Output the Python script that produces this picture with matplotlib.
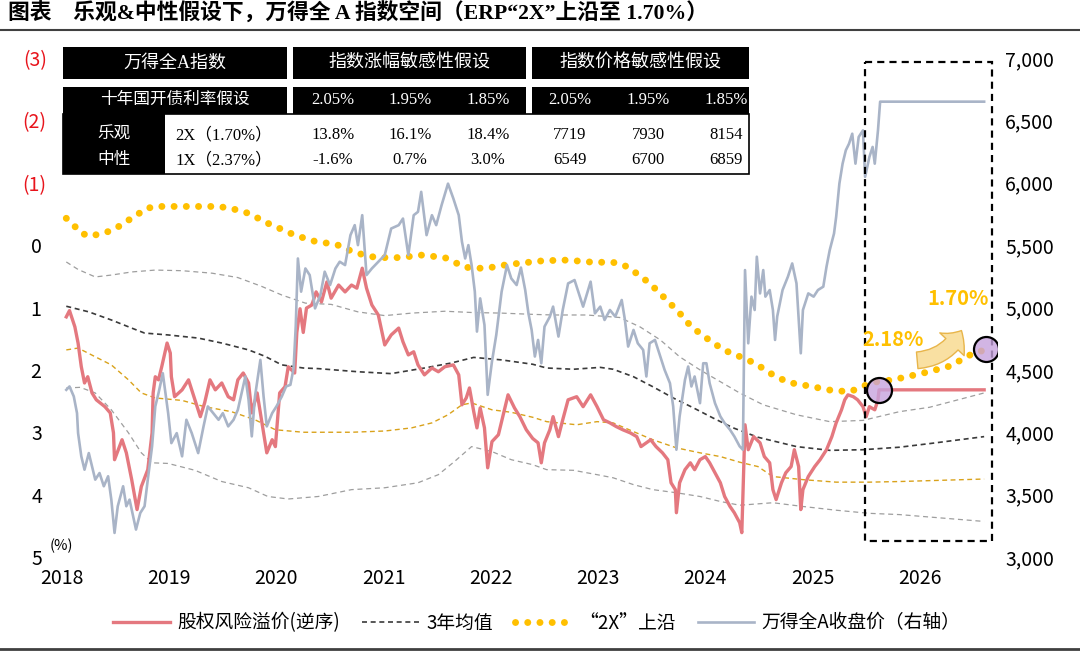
import matplotlib
matplotlib.use('Agg')
import matplotlib.pyplot as plt
from matplotlib.patches import Rectangle, FancyArrowPatch, ArrowStyle
from matplotlib.lines import Line2D
from matplotlib.ticker import FuncFormatter

plt.rcParams['font.family'] = ['Noto Sans CJK SC', 'DejaVu Sans']
plt.rcParams['axes.unicode_minus'] = False

# ---------------- datos ----------------
# ERP (%, eje izquierdo invertido)
erp_t = [2018.04, 2018.07, 2018.12, 2018.15, 2018.18, 2018.21, 2018.24, 2018.28, 2018.32, 2018.40,
         2018.45, 2018.48, 2018.49, 2018.56, 2018.60, 2018.65, 2018.70, 2018.74, 2018.80, 2018.84,
         2018.85, 2018.87, 2018.90, 2018.93, 2018.98, 2019.01, 2019.02, 2019.05, 2019.12, 2019.18,
         2019.24, 2019.29, 2019.33, 2019.38, 2019.43, 2019.49, 2019.55, 2019.60, 2019.64, 2019.69,
         2019.74, 2019.77, 2019.82, 2019.86, 2019.91, 2019.96, 2019.99, 2020.03, 2020.08, 2020.11,
         2020.14, 2020.17, 2020.19, 2020.22, 2020.25, 2020.28, 2020.33, 2020.37, 2020.42, 2020.47,
         2020.51, 2020.58, 2020.64, 2020.70, 2020.75, 2020.80, 2020.84, 2020.89, 2020.95, 2021.01,
         2021.07, 2021.14, 2021.18, 2021.23, 2021.28, 2021.32, 2021.38, 2021.45, 2021.51, 2021.57,
         2021.65, 2021.70, 2021.73, 2021.77, 2021.80, 2021.84, 2021.87, 2021.90, 2021.94, 2021.97,
         2022.01, 2022.07, 2022.13, 2022.16, 2022.22, 2022.27, 2022.33, 2022.39, 2022.44, 2022.47,
         2022.50, 2022.55, 2022.58, 2022.63, 2022.67, 2022.72, 2022.80, 2022.86, 2022.93, 2022.99,
         2023.05, 2023.11, 2023.17, 2023.23, 2023.30, 2023.36, 2023.40, 2023.45, 2023.49, 2023.54,
         2023.60, 2023.65, 2023.68, 2023.72, 2023.73, 2023.76, 2023.81, 2023.86, 2023.90, 2023.95,
         2024.00, 2024.04, 2024.09, 2024.14, 2024.18, 2024.23, 2024.27, 2024.32, 2024.34, 2024.37,
         2024.40, 2024.45, 2024.51, 2024.55, 2024.60, 2024.63, 2024.66, 2024.71, 2024.75, 2024.80,
         2024.83, 2024.87, 2024.89, 2024.91, 2024.96, 2025.02, 2025.07, 2025.13, 2025.18, 2025.22,
         2025.27, 2025.30, 2025.33, 2025.38, 2025.42, 2025.47, 2025.50, 2025.53, 2025.58, 2025.61,
         2025.62, 2026.60]
erp_v = [1.15, 1.05, 1.31, 1.57, 1.95, 2.21, 2.11, 2.37, 2.48, 2.59,
         2.69, 3.01, 3.44, 3.12, 3.33, 3.76, 4.24, 3.87, 3.60, 3.01,
         2.37, 2.11, 2.16, 1.95, 1.57, 1.73, 2.11, 2.43, 2.32, 2.16,
         2.48, 2.75, 2.53, 2.16, 2.32, 2.21, 2.43, 2.48, 2.16, 2.05,
         2.21, 2.69, 2.37, 2.80, 3.33, 3.12, 3.23, 2.37, 2.27, 1.95,
         2.00, 2.05, 1.40, 1.02, 1.40, 1.01, 0.96, 0.75, 0.91, 0.59,
         0.85, 0.64, 0.75, 0.64, 0.69, 0.37, 0.69, 0.96, 1.12, 1.60,
         1.44, 1.33, 1.55, 1.76, 1.71, 1.92, 2.08, 1.97, 2.03, 1.95,
         1.92, 2.08, 2.56, 2.45, 2.29, 2.67, 2.93, 2.61, 2.93, 3.57,
         3.15, 3.04, 2.61, 2.40, 2.61, 2.75, 2.96, 3.10, 3.17, 3.49,
         3.17, 2.96, 2.75, 3.07, 2.80, 2.48, 2.43, 2.59, 2.40, 2.59,
         2.80, 2.85, 2.91, 2.96, 3.01, 3.07, 3.23, 3.17, 3.12, 3.23,
         3.33, 3.44, 3.81, 3.92, 4.29, 3.81, 3.60, 3.49, 3.60, 3.44,
         3.39, 3.49, 3.65, 3.81, 4.03, 4.19, 4.29, 4.45, 4.61, 2.88,
         3.28, 3.07, 3.17, 3.39, 3.49, 3.92, 4.08, 3.81, 3.65, 3.55,
         3.28, 3.55, 4.24, 3.92, 3.71, 3.55, 3.44, 3.28, 3.07, 2.85,
         2.64, 2.48, 2.40, 2.43, 2.48, 2.59, 2.75, 2.59, 2.64, 2.48,
         2.32, 2.32]

# 万得全A 收盘价 (eje derecho)
idx_t = [2018.04, 2018.07, 2018.11, 2018.14, 2018.15, 2018.18, 2018.21, 2018.25, 2018.28, 2018.31,
         2018.35, 2018.39, 2018.43, 2018.46, 2018.49, 2018.52, 2018.57, 2018.60, 2018.63, 2018.69,
         2018.73, 2018.77, 2018.80, 2018.84, 2018.87, 2018.90, 2018.94, 2018.99, 2019.02, 2019.07,
         2019.12, 2019.16, 2019.21, 2019.27, 2019.32, 2019.36, 2019.41, 2019.46, 2019.50, 2019.55,
         2019.60, 2019.64, 2019.71, 2019.74, 2019.77, 2019.80, 2019.85, 2019.88, 2019.91, 2019.96,
         2020.00, 2020.05, 2020.09, 2020.13, 2020.16, 2020.18, 2020.20, 2020.23, 2020.27, 2020.31,
         2020.36, 2020.41, 2020.45, 2020.50, 2020.55, 2020.59, 2020.64, 2020.69, 2020.73, 2020.76,
         2020.80, 2020.84, 2020.89, 2020.95, 2021.01, 2021.07, 2021.14, 2021.18, 2021.23, 2021.28,
         2021.32, 2021.35, 2021.40, 2021.45, 2021.49, 2021.54, 2021.60, 2021.65, 2021.70, 2021.73,
         2021.76, 2021.79, 2021.82, 2021.85, 2021.87, 2021.90, 2021.94, 2021.97, 2022.01, 2022.05,
         2022.10, 2022.15, 2022.19, 2022.24, 2022.28, 2022.32, 2022.35, 2022.38, 2022.41, 2022.44,
         2022.47, 2022.50, 2022.55, 2022.58, 2022.63, 2022.67, 2022.72, 2022.78, 2022.83, 2022.86,
         2022.93, 2022.97, 2023.02, 2023.06, 2023.11, 2023.16, 2023.22, 2023.25, 2023.28, 2023.33,
         2023.37, 2023.42, 2023.45, 2023.48, 2023.53, 2023.58, 2023.62, 2023.67, 2023.70, 2023.73,
         2023.76, 2023.81, 2023.84, 2023.87, 2023.90, 2023.95, 2023.98, 2024.01, 2024.04, 2024.09,
         2024.14, 2024.18, 2024.23, 2024.27, 2024.32, 2024.35, 2024.37, 2024.40, 2024.43, 2024.46,
         2024.48, 2024.51, 2024.54, 2024.56, 2024.60, 2024.63, 2024.65, 2024.67, 2024.72, 2024.77,
         2024.81, 2024.85, 2024.89, 2024.91, 2024.96, 2025.01, 2025.05, 2025.10, 2025.13, 2025.16,
         2025.20, 2025.22, 2025.25, 2025.28, 2025.31, 2025.34, 2025.37, 2025.40, 2025.43, 2025.47,
         2025.49, 2025.53, 2025.56, 2025.58, 2025.61, 2025.63, 2026.60]
idx_v = [4340, 4367, 4287, 4153, 3993, 3807, 3700, 3833, 3727, 3620,
         3673, 3567, 3647, 3460, 3193, 3407, 3567, 3407, 3460, 3220,
         3353, 3407, 3620, 3887, 4207, 4313, 4473, 4153, 3913, 3993,
         3807, 4100, 3993, 3833, 4047, 4207, 4153, 4100, 4153, 4047,
         4100, 4180, 4447, 4260, 3967, 4287, 4580, 4287, 4047, 4153,
         4207, 4287, 4367, 4380, 4513, 4850, 5393, 5127, 5313, 5260,
         4993, 5100, 5287, 5180, 5313, 5367, 5340, 5580, 5660, 5500,
         5740, 5260, 5313, 5367, 5420, 5633, 5660, 5713, 5420, 5740,
         5767, 5927, 5580, 5740, 5660, 5820, 5993, 5873, 5740, 5527,
         5393, 5500, 5340, 5127, 4807, 5073, 4860, 4300, 4567, 4780,
         5127, 5340, 5233, 5180, 5320, 5140, 4953, 4820, 4607, 4740,
         4553, 4847, 4927, 5007, 4767, 4980, 5193, 5220, 5087, 5007,
         5207, 4953, 5007, 4900, 4980, 4927, 5060, 4900, 4687, 4820,
         4713, 4660, 4447, 4713, 4740, 4607, 4500, 4393, 4207, 3860,
         4127, 4420, 4527, 4367, 4447, 4233, 4553, 4553, 4393, 4233,
         4127, 4073, 4020, 3967, 3887, 3860, 5300, 4713, 5087, 4980,
         5407, 5113, 5300, 5087, 5140, 4980, 4740, 4927, 5140, 5247,
         5353, 5193, 4633, 4980, 5113, 5087, 5140, 5167, 5327, 5460,
         5593, 5727, 5993, 6153, 6260, 6313, 6393, 6153, 6367, 6420,
         6047, 6207, 6287, 6153, 6420, 6650, 6650]

# 3年均值
mean_t = [2018.04, 2018.25, 2018.46, 2018.65, 2018.77, 2018.99, 2019.27, 2019.49, 2019.74, 2019.89,
          2020.05, 2020.25, 2020.39, 2020.76, 2021.07, 2021.38, 2021.63, 2021.84, 2022.10, 2022.39,
          2022.52, 2022.77, 2023.02, 2023.14, 2023.33, 2023.51, 2023.70, 2023.89, 2024.07, 2024.26,
          2024.49, 2024.85, 2025.16, 2025.47, 2025.81, 2026.10, 2026.60]
mean_v = [0.98, 1.07, 1.20, 1.33, 1.41, 1.44, 1.49, 1.57, 1.68, 1.78,
          1.92, 1.97, 1.98, 2.03, 2.06, 1.97, 1.89, 1.80, 1.84, 1.91,
          1.97, 1.99, 1.96, 1.99, 2.11, 2.27, 2.45, 2.61, 2.77, 2.93,
          3.08, 3.23, 3.29, 3.28, 3.24, 3.18, 3.07]

# 均值-1倍标准差 (灰色虚线上)
up1_t = [2018.04, 2018.15, 2018.31, 2018.46, 2018.65, 2018.87, 2019.12, 2019.40, 2019.64, 2019.86,
         2020.05, 2020.27, 2020.51, 2020.76, 2021.01, 2021.26, 2021.57, 2021.82, 2022.10, 2022.39,
         2022.58, 2022.89, 2023.20, 2023.39, 2023.58, 2023.76, 2023.95, 2024.14, 2024.32, 2024.54,
         2024.85, 2025.16, 2025.47, 2025.81, 2026.09, 2026.60]
up1_v = [0.27, 0.39, 0.51, 0.48, 0.43, 0.40, 0.41, 0.45, 0.52, 0.66,
         0.80, 0.93, 0.95, 1.07, 1.13, 1.09, 1.06, 1.08, 1.09, 1.11,
         1.12, 1.12, 1.16, 1.31, 1.52, 1.79, 2.00, 2.19, 2.37, 2.56,
         2.72, 2.83, 2.81, 2.67, 2.60, 2.37]

# “2X”上沿
twox_t = [2018.04, 2018.11, 2018.17, 2018.26, 2018.37, 2018.46, 2018.54, 2018.62, 2018.70, 2018.76,
          2018.86, 2019.21, 2019.43, 2019.55, 2019.64, 2019.74, 2019.83, 2019.92, 2020.08, 2020.17,
          2020.36, 2020.56, 2020.73, 2020.93, 2021.15, 2021.35, 2021.57, 2021.66, 2021.74, 2021.85,
          2021.96, 2022.16, 2022.49, 2022.71, 2022.92, 2023.16, 2023.25, 2023.34, 2023.48, 2023.61,
          2023.75, 2023.87, 2024.01, 2024.17, 2024.34, 2024.47, 2024.60, 2024.77, 2024.97, 2025.18,
          2025.35, 2025.46, 2025.56, 2025.75, 2026.06, 2026.28, 2026.47, 2026.62]
twox_v = [-0.43, -0.32, -0.20, -0.14, -0.19, -0.23, -0.31, -0.40, -0.48, -0.57,
          -0.62, -0.62, -0.62, -0.60, -0.56, -0.51, -0.43, -0.35, -0.23, -0.16,
          -0.06, -0.01, 0.12, 0.20, 0.20, 0.16, 0.20, 0.27, 0.35, 0.37,
          0.37, 0.31, 0.25, 0.24, 0.27, 0.28, 0.33, 0.43, 0.61, 0.83,
          1.07, 1.31, 1.49, 1.68, 1.80, 1.90, 2.05, 2.20, 2.26, 2.33,
          2.35, 2.27, 2.20, 2.16, 2.04, 1.94, 1.76, 1.67]

# 均值+1倍标准差 (黄色细虚线)
dn1_t = [2018.04, 2018.15, 2018.31, 2018.46, 2018.62, 2018.74, 2018.87, 2019.12, 2019.33, 2019.58,
         2019.80, 2019.99, 2020.25, 2020.70, 2021.01, 2021.26, 2021.45, 2021.60, 2021.73, 2021.82,
         2022.01, 2022.19, 2022.39, 2022.52, 2022.80, 2022.99, 2023.14, 2023.33, 2023.51, 2023.73,
         2023.95, 2024.14, 2024.32, 2024.49, 2024.63, 2024.91, 2025.22, 2025.53, 2025.81, 2026.60]
dn1_v = [1.68, 1.65, 1.79, 1.92, 2.16, 2.37, 2.45, 2.49, 2.59, 2.67,
         2.80, 2.96, 3.00, 3.00, 2.98, 2.93, 2.85, 2.72, 2.56, 2.53,
         2.64, 2.68, 2.76, 2.83, 2.88, 2.83, 2.85, 2.99, 3.12, 3.25,
         3.33, 3.39, 3.48, 3.55, 3.71, 3.76, 3.80, 3.80, 3.79, 3.75]

# 均值+2倍标准差 (灰色虚线下)
dn2_t = [2018.04, 2018.17, 2018.31, 2018.46, 2018.62, 2018.74, 2018.84, 2018.99, 2019.24, 2019.49,
         2019.74, 2019.92, 2020.11, 2020.39, 2020.70, 2021.01, 2021.32, 2021.51, 2021.66, 2021.82,
         2022.01, 2022.19, 2022.39, 2022.52, 2022.77, 2022.99, 2023.14, 2023.33, 2023.51, 2023.73,
         2023.95, 2024.14, 2024.32, 2024.63, 2024.91, 2025.22, 2025.53, 2025.81, 2026.60]
dn2_v = [2.29, 2.28, 2.37, 2.64, 3.01, 3.33, 3.49, 3.50, 3.61, 3.79,
         3.89, 4.03, 4.07, 4.03, 3.92, 3.89, 3.81, 3.68, 3.47, 3.23,
         3.31, 3.44, 3.52, 3.60, 3.61, 3.68, 3.73, 3.84, 3.92, 3.97,
         4.03, 4.11, 4.17, 4.13, 4.19, 4.25, 4.30, 4.32, 4.43]

# puntos marcados (ERP actual y 2X objetivo)
mark_t = [2025.62, 2026.62]
mark_v = [2.32, 1.67]
mark_txt = ['2.18%', '1.70%']

# tabla
tab_head = ['万得全A指数', '指数涨幅敏感性假设', '指数价格敏感性假设']
tab_rate_title = '十年国开债利率假设'
tab_rates = ['2.05%', '1.95%', '1.85%']
scen_names = ['乐观', '中性']
scen_erp = ['2X（1.70%）', '1X（2.37%）']
gain_pct = [[13.8, 16.1, 18.4], [-1.6, 0.7, 3.0]]
price_lvl = [[7719, 7930, 8154], [6549, 6700, 6859]]

title = '图表　乐观&中性假设下，万得全 A 指数空间（ERP“2X”上沿至 1.70%）'

# ---------------- figura ----------------
W, H = 1080, 655
fig = plt.figure(figsize=(W / 100, H / 100), dpi=100)


def fx(px):
    return px / W


def fy(py):
    return 1 - py / H


ax = fig.add_axes([fx(62), fy(557), fx(997) - fx(62), fy(58) - fy(557)])
ax2 = ax.twinx()

c_red = '#E4787F'
c_gray = '#A9B4C7'
c_gold = '#FFC000'

ax.plot(up1_t, up1_v, color='#9E9E9E', lw=0.9, ls=(0, (4, 3)))
ax.plot(dn2_t, dn2_v, color='#9E9E9E', lw=0.9, ls=(0, (4, 3)))
ax.plot(dn1_t, dn1_v, color='#D9A21B', lw=1.0, ls=(0, (3.5, 2.5)))
l_mean, = ax.plot(mean_t, mean_v, color='#3A3A3A', lw=1.2, ls=(0, (3, 2.2)), label='3年均值')
l_2x, = ax.plot(twox_t, twox_v, color=c_gold, lw=5, ls=(0, (0.01, 1.75)),
                dash_capstyle='round', label='“2X”上沿')
l_erp, = ax.plot(erp_t, erp_v, color=c_red, lw=2.4, label='股权风险溢价(逆序)')
l_idx, = ax2.plot(idx_t, idx_v, color=c_gray, lw=1.9, label='万得全A收盘价（右轴）')

ax.set_xlim(2018.0, 2026.72)
ax.set_ylim(5, -3)
ax2.set_ylim(3000, 7000)

ax.set_xticks(range(2018, 2027))
ax.set_xticklabels([str(y) for y in range(2018, 2027)])
yt = list(range(-3, 6))
ax.set_yticks(yt)
ax.set_yticklabels([f'({-v})' if v < 0 else f'{v} ' for v in yt])
for lbl in ax.get_yticklabels():
    if lbl.get_text().startswith('('):
        lbl.set_color('#E8141C')
ax2.set_yticks(range(3000, 7001, 500))
ax2.yaxis.set_major_formatter(FuncFormatter(lambda v, p: f'{v:,.0f}'))

ax.tick_params(axis='x', length=0, pad=8, labelsize=14)
ax.tick_params(axis='y', length=0, pad=11, labelsize=14)
ax2.tick_params(axis='y', length=0, pad=6, labelsize=14)
for a in (ax, ax2):
    for s in a.spines.values():
        s.set_visible(False)

# recuadro de proyección
box = Rectangle((2025.49, -2.93), 2026.67 - 2025.49, 4.74 + 2.93, transform=ax.transData,
                fill=False, ec='black', lw=1.6, ls=(0, (3.2, 2.3)), zorder=6)
ax2.add_patch(box)

# círculos
ax2.plot(mark_t, mark_v, transform=ax.transData, ls='none', marker='o', ms=18,
         mfc=(0.78, 0.64, 0.87, 0.8), mec='black', mew=1.6, zorder=8)

# flecha curva
arr = FancyArrowPatch((2025.95, 1.85), (2026.40, 1.33), transform=ax.transData,
                      connectionstyle='arc3,rad=0.3',
                      arrowstyle=ArrowStyle.Simple(head_length=0.6, head_width=1.2, tail_width=0.6),
                      mutation_scale=20, fc='#F9E0A2', ec='#E8B54A', lw=1, zorder=7)
ax2.add_patch(arr)

for (tx, ty), s in zip([(2025.75, 1.52), (2026.36, 0.85)], mark_txt):
    ax2.text(tx, ty, s, transform=ax.transData, ha='center', va='center',
             fontsize=14.5, fontweight='bold', color=c_gold, zorder=9)

fig.text(fx(61), fy(546), '(%)', fontsize=10.5, ha='center', va='center')

# leyenda
fig.legend([l_erp, l_mean, l_2x, l_idx],
           [l_erp.get_label(), l_mean.get_label(), l_2x.get_label(), l_idx.get_label()],
           loc='center', bbox_to_anchor=(fx(537), fy(623)), ncol=4, frameon=False,
           fontsize=13.5, handlelength=3.0, handletextpad=0.4, columnspacing=1.2)

# título y líneas
fig.text(fx(8), fy(14), title, fontsize=15.7, fontweight='bold',
         family=['Liberation Serif', 'Noto Sans CJK SC'], ha='left', va='center')
fig.add_artist(Line2D([0, 1], [fy(30), fy(30)], transform=fig.transFigure, color='#404040', lw=1.5))
fig.add_artist(Line2D([0, 1], [fy(649), fy(649)], transform=fig.transFigure, color='#404040', lw=2))


# tabla
def rect(x0, y0, x1, y1, fc, ec='none', lw=0):
    fig.add_artist(Rectangle((fx(x0), fy(y1)), fx(x1) - fx(x0), fy(y0) - fy(y1),
                             transform=fig.transFigure, fc=fc, ec=ec, lw=lw, zorder=10))


tfam = ['Liberation Serif', 'Noto Sans CJK SC']


def ttext(x, y, s, color, size=12):
    fig.text(fx(x), fy(y), s, color=color, fontsize=size, family=tfam,
             ha='center', va='center', zorder=11)


blocks = [(63, 287), (293, 526), (532, 749)]
for x0, x1 in blocks:
    rect(x0, 47, x1, 79, 'black')
    rect(x0, 87, x1, 114, 'black')
rect(63, 114, 749, 174, 'white', 'black', 1.2)
rect(63, 114, 165, 174, 'black')

for (x0, x1), s in zip(blocks, tab_head):
    ttext((x0 + x1) / 2, 63, s, 'white', 13)
ttext(175, 100, tab_rate_title, 'white')
col_x = [333, 410, 488, 570, 648, 726]
for i, s in enumerate(tab_rates + tab_rates):
    ttext(col_x[i], 100, s, 'white')
row_y = [135, 160]
for r in range(2):
    ttext(114, row_y[r], scen_names[r], 'white')
    ttext(224, row_y[r], scen_erp[r], 'black')
    for j in range(3):
        ttext(col_x[j], row_y[r], f'{gain_pct[r][j]:.1f}%', 'black')
        ttext(col_x[j + 3], row_y[r], f'{price_lvl[r][j]}', 'black')

fig.savefig('out.png', dpi=100)
